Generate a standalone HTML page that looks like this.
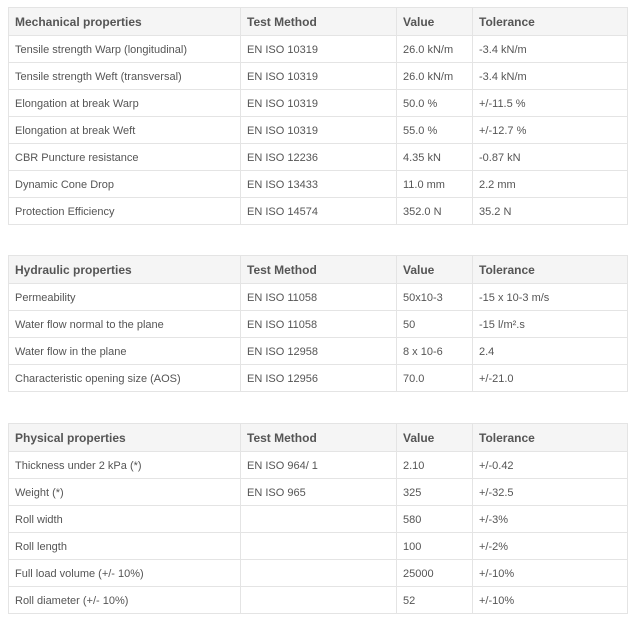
<!DOCTYPE html>
<html><head><style>
body{margin:0;background:#fff;width:635px;height:623px;overflow:hidden;font-family:"Liberation Sans",Arial,sans-serif;color:#555;}
table{position:absolute;left:8px;width:619px;border-collapse:collapse;table-layout:fixed;}
td,th{border:1px solid #e4e4e4;padding:1px 0 0 6px;text-align:left;font-size:11px;height:25px;white-space:nowrap;}
th{background:#f5f5f5;font-size:12px;font-weight:bold;height:26px;color:#555;}
</style></head><body>
<table style="top:7px">
<colgroup><col style="width:232px"><col style="width:156px"><col style="width:76px"><col style="width:155px"></colgroup>
<tr><th>Mechanical properties</th><th>Test Method</th><th>Value</th><th>Tolerance</th></tr>
<tr><td>Tensile strength Warp (longitudinal)</td><td>EN ISO 10319</td><td>26.0 kN/m</td><td>-3.4 kN/m</td></tr>
<tr><td>Tensile strength Weft (transversal)</td><td>EN ISO 10319</td><td>26.0 kN/m</td><td>-3.4 kN/m</td></tr>
<tr><td>Elongation at break Warp</td><td>EN ISO 10319</td><td>50.0 %</td><td>+/-11.5 %</td></tr>
<tr><td>Elongation at break Weft</td><td>EN ISO 10319</td><td>55.0 %</td><td>+/-12.7 %</td></tr>
<tr><td>CBR Puncture resistance</td><td>EN ISO 12236</td><td>4.35 kN</td><td>-0.87 kN</td></tr>
<tr><td>Dynamic Cone Drop</td><td>EN ISO 13433</td><td>11.0 mm</td><td>2.2 mm</td></tr>
<tr><td>Protection Efficiency</td><td>EN ISO 14574</td><td>352.0 N</td><td>35.2 N</td></tr>
</table>
<table style="top:255px">
<colgroup><col style="width:232px"><col style="width:156px"><col style="width:76px"><col style="width:155px"></colgroup>
<tr><th>Hydraulic properties</th><th>Test Method</th><th>Value</th><th>Tolerance</th></tr>
<tr><td>Permeability</td><td>EN ISO 11058</td><td>50x10-3</td><td>-15 x 10-3 m/s</td></tr>
<tr><td>Water flow normal to the plane</td><td>EN ISO 11058</td><td>50</td><td>-15 l/m².s</td></tr>
<tr><td>Water flow in the plane</td><td>EN ISO 12958</td><td>8 x 10-6</td><td>2.4</td></tr>
<tr><td>Characteristic opening size (AOS)</td><td>EN ISO 12956</td><td>70.0</td><td>+/-21.0</td></tr>
</table>
<table style="top:423px">
<colgroup><col style="width:232px"><col style="width:156px"><col style="width:76px"><col style="width:155px"></colgroup>
<tr><th>Physical properties</th><th>Test Method</th><th>Value</th><th>Tolerance</th></tr>
<tr><td>Thickness under 2 kPa (*)</td><td>EN ISO 964/ 1</td><td>2.10</td><td>+/-0.42</td></tr>
<tr><td>Weight (*)</td><td>EN ISO 965</td><td>325</td><td>+/-32.5</td></tr>
<tr><td>Roll width</td><td></td><td>580</td><td>+/-3%</td></tr>
<tr><td>Roll length</td><td></td><td>100</td><td>+/-2%</td></tr>
<tr><td>Full load volume (+/- 10%)</td><td></td><td>25000</td><td>+/-10%</td></tr>
<tr><td>Roll diameter (+/- 10%)</td><td></td><td>52</td><td>+/-10%</td></tr>
</table>
</body></html>
